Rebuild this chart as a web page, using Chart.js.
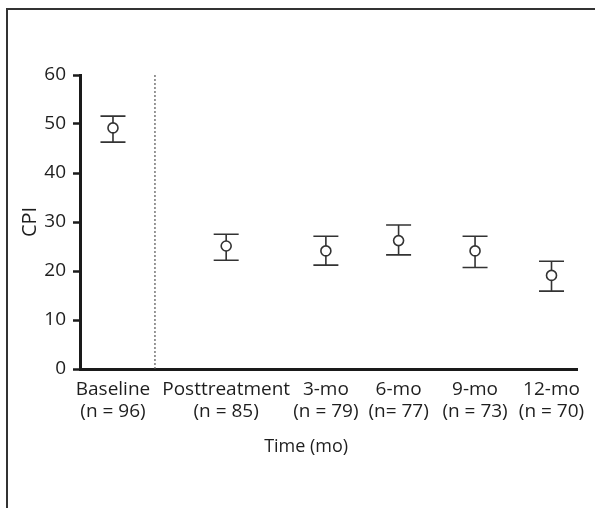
<!DOCTYPE html>
<html>
<head>
<meta charset="utf-8">
<script src="https://cdn.jsdelivr.net/npm/chart.js@4/dist/chart.umd.min.js"></script>
<style>
  body { margin: 0; background: #fff; }
  #wrap { position: relative; width: 595px; height: 508px; overflow: hidden; }
  #frame {
    position: absolute; left: 6px; top: 8px; width: 600px; height: 520px;
    border-top: 2px solid #333; border-left: 2px solid #333; pointer-events: none;
  }
</style>
</head>
<body>
<div id="wrap">
  <canvas id="cpiChart" width="595" height="508"></canvas>
  <div id="frame"></div>
</div>
<script>
const timeLabels = ['Baseline', 'Posttreatment', '3-mo', '6-mo', '9-mo', '12-mo'];
const sampleLabels = ['(n = 96)', '(n = 85)', '(n = 79)', '(n= 77)', '(n = 73)', '(n = 70)'];
const slots = [0.44, 1.95, 3.28, 4.25, 5.27, 6.29];
const cpiMean = [49.2, 25.1, 24.1, 26.2, 24.1, 19.1];
const cpiUpper = [51.6, 27.5, 27.1, 29.4, 27.1, 22.0];
const cpiLower = [46.3, 22.2, 21.2, 23.3, 20.7, 15.9];
const separatorAt = 1;
const yMax = 60;

Chart.defaults.font.family = "'Open Sans', 'DejaVu Sans', sans-serif";
Chart.defaults.color = '#1e1e1e';

const errorBars = {
    id: 'errorBars',
    beforeDatasetsDraw(chart) {
        const ctx = chart.ctx;
        const xs = chart.scales.x;
        const ys = chart.scales.y;
        ctx.save();
        ctx.strokeStyle = '#333';
        ctx.lineWidth = 1.6;
        slots.forEach((s, i) => {
            const x = xs.getPixelForValue(s);
            const yHi = ys.getPixelForValue(cpiUpper[i]);
            const yLo = ys.getPixelForValue(cpiLower[i]);
            ctx.beginPath();
            ctx.moveTo(x, yHi); ctx.lineTo(x, yLo);
            ctx.moveTo(x - 12.5, yHi); ctx.lineTo(x + 12.5, yHi);
            ctx.moveTo(x - 12.5, yLo); ctx.lineTo(x + 12.5, yLo);
            ctx.stroke();
        });
        ctx.restore();
    }
};

const xTitle = {
    id: 'xTitle',
    afterDraw(chart) {
        const ctx = chart.ctx;
        const area = chart.chartArea;
        ctx.save();
        ctx.font = "18px 'Open Sans', sans-serif";
        ctx.fillStyle = '#1e1e1e';
        ctx.textAlign = 'center';
        ctx.textBaseline = 'middle';
        ctx.fillText('Time (mo)', area.left + (area.right - area.left) * 0.455, area.bottom + 78);
        ctx.restore();
    }
};

new Chart(document.getElementById('cpiChart'), {
    type: 'scatter',
    data: {
        datasets: [{
            type: 'line',
            data: [{x: separatorAt, y: 0}, {x: separatorAt, y: yMax}],
            borderColor: '#555',
            borderWidth: 1.2,
            borderDash: [2, 2],
            pointRadius: 0
        }, {
            data: slots.map((s, i) => ({x: s, y: cpiMean[i]})),
            pointRadius: 5,
            pointBorderWidth: 1.6,
            borderColor: '#333',
            backgroundColor: '#fff'
        }]
    },
    options: {
        responsive: false,
        animation: false,
        layout: { padding: { left: 0, top: 75, right: 18, bottom: 0 } },
        plugins: { legend: { display: false }, tooltip: { enabled: false } },
        scales: {
            x: {
                type: 'linear',
                min: 0,
                max: 6.63,
                afterFit(scale) { scale.height = 139; },
                afterBuildTicks(scale) { scale.ticks = slots.map(v => ({value: v})); },
                grid: { display: false },
                border: { display: true, width: 3, color: '#1a1a1a' },
                ticks: {
                    autoSkip: false,
                    maxRotation: 0,
                    padding: 2,
                    font: { size: 19, lineHeight: 1.15 },
                    callback: (v, i) => [timeLabels[i], sampleLabels[i]]
                }
            },
            y: {
                min: 0,
                max: yMax,
                afterFit(scale) { scale.width = 80; },
                grid: { drawOnChartArea: false, drawTicks: true, tickLength: 7, tickWidth: 2.5, tickColor: '#1a1a1a' },
                border: { display: true, width: 3, color: '#1a1a1a' },
                ticks: { stepSize: 10, padding: 7, font: { size: 19 } },
                title: { display: true, text: 'CPI', font: { size: 20 }, padding: { top: 18, bottom: 0 } }
            }
        }
    },
    plugins: [errorBars, xTitle]
});
</script>
</body>
</html>
